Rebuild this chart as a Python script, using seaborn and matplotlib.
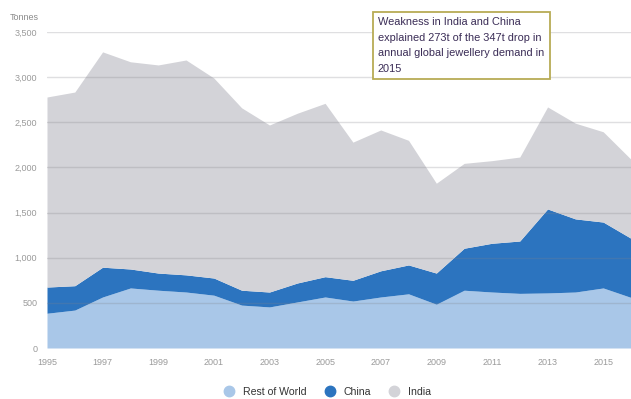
import matplotlib
matplotlib.use("Agg")
import matplotlib.pyplot as plt
import seaborn as sns
from matplotlib.lines import Line2D

years = list(range(1995, 2017))
rest_of_world = [385, 420, 565, 665, 640, 620, 585, 475, 455, 510, 565, 520, 565, 600, 485, 640, 620, 605, 610, 620, 665, 560]
china = [290, 270, 330, 210, 190, 190, 190, 165, 165, 210, 225, 230, 290, 320, 345, 465, 540, 580, 930, 810, 730, 655]
india = [2105, 2145, 2385, 2295, 2305, 2380, 2215, 2020, 1850, 1880, 1920, 1530, 1560, 1380, 995, 940, 915, 930, 1130, 1060, 1000, 875]
series_names = ["Rest of World", "China", "India"]
x_ticks = [1995, 1997, 1999, 2001, 2003, 2005, 2007, 2009, 2011, 2013, 2015]
y_ticks = [0, 500, 1000, 1500, 2000, 2500, 3000, 3500]
note = "Weakness in India and China\nexplained 273t of the 347t drop in\nannual global jewellery demand in\n2015"

colors = ["#a9c7e8", "#2c74bf", "#d3d3d8"]

sns.set_theme(style="white")
plt.rcParams['font.family'] = ['Liberation Sans', 'DejaVu Sans']

fig = plt.figure(figsize=(6.31, 3.99), dpi=100)
ax = fig.add_axes([47/631, 51/399, 1 - 47/631, (348-32)/399])

ax.stackplot(years, rest_of_world, china, india, colors=colors, linewidth=0)
ax.set_xlim(1995, 2016)
ax.set_ylim(0, 3500)
ax.set_yticks(y_ticks)
ax.set_yticklabels([f"{v:,}" for v in y_ticks])
ax.set_xticks(x_ticks)
ax.set_xticklabels([str(v) for v in x_ticks])
for v in y_ticks[1:]:
    ax.axhline(v, color="#808088", alpha=0.25, linewidth=1.0, zorder=5)
for s in ax.spines.values():
    s.set_visible(False)
ax.tick_params(axis="both", labelsize=6.5, colors="#9a9a9a", length=0, pad=7)

fig.text(10/631, 1 - 17/399, "Tonnes", fontsize=6.5, color="#8a8a8a", va="center", ha="left")

fig.text(378/631, 1 - 17/399, note, fontsize=7.9, color="#3b2d57",
         va="top", ha="left", linespacing=1.7, zorder=10,
         bbox=dict(boxstyle="square,pad=0.5", facecolor="white", edgecolor="#b7ab55", linewidth=1.3))

handles = [Line2D([0], [0], marker="o", linestyle="", markersize=7.5,
                  markerfacecolor=c, markeredgecolor=c) for c in colors]
fig.legend(handles, series_names, loc="center", bbox_to_anchor=(325/631, 1 - 392/399),
           ncol=3, frameon=False, fontsize=7.6, handletextpad=0.3, columnspacing=1.2,
           labelcolor="#333333")

fig.savefig("out.png", dpi=100)
